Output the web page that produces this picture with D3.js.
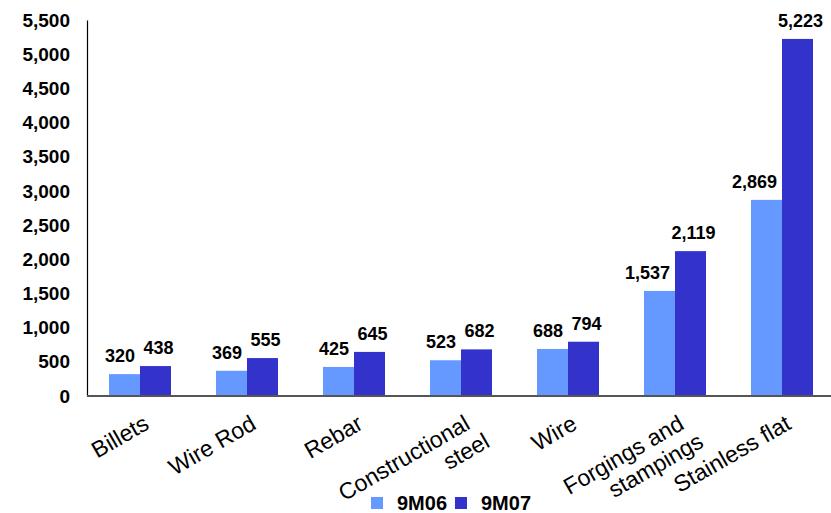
<!doctype html>
<html>
  <head>
    <script src="https://cdnjs.cloudflare.com/ajax/libs/d3/7.8.5/d3.min.js"></script>
    <style>
      body { margin: 0; background: #fff; }
      svg { font-family: "Liberation Sans", Arial, sans-serif; }
      .tick text { font-size: 19px; font-weight: bold; fill: #000; }
      .val { font-size: 18px; font-weight: bold; fill: #000; }
      .cat { font-size: 23px; fill: #000; }
      .legend text { font-size: 20px; font-weight: bold; fill: #000; }
    </style>
  </head>
  <body>
    <svg width="831" height="513"></svg>
    <script>
      var categories = [["Billets"], ["Wire Rod"], ["Rebar"], ["Constructional", "steel"],
                        ["Wire"], ["Forgings and", "stampings"], ["Stainless flat"]];
      var seriesNames = ["9M06", "9M07"];
      var values9M06 = [320, 369, 425, 523, 688, 1537, 2869];
      var values9M07 = [438, 555, 645, 682, 794, 2119, 5223];
      var colors = ["#6699FF", "#3333CC"];
      var yTicks = d3.range(0, 5501, 500);

      var svg = d3.select("svg");
      var series = [values9M06, values9M07];

      var x = d3.scaleBand()
        .domain(d3.range(categories.length))
        .range([87, 836]);
      var xs = d3.scaleBand()
        .domain([0, 1])
        .range([22, x.bandwidth() - 23]);
      var y = d3.scaleLinear()
        .domain([0, 5500])
        .range([396, 20]);

      // y axis
      var yAxis = svg.append("g")
        .attr("transform", "translate(87,0)")
        .call(d3.axisLeft(y).tickValues(yTicks).tickSize(0).tickPadding(17)
          .tickFormat(d3.format(",")));
      yAxis.select(".domain").attr("stroke", "#000").attr("stroke-width", 1.2);
      yAxis.selectAll(".tick text").attr("font-family", null).attr("font-size", null);

      // bars
      series.forEach(function(vals, s) {
        svg.append("g").selectAll("rect")
          .data(vals)
          .enter()
          .append("rect")
            .attr("x", (d, i) => x(i) + xs(s))
            .attr("width", xs.bandwidth())
            .attr("y", d => y(d))
            .attr("height", d => y(0) - y(d))
            .attr("fill", colors[s]);

        svg.append("g").selectAll("text")
          .data(vals)
          .enter()
          .append("text")
            .attr("class", "val")
            .attr("x", (d, i) => s === 0 ? x(i) + xs(s) + xs.bandwidth() - 5
                                         : x(i) + xs(s) + xs.bandwidth() / 2 + 3)
            .attr("y", d => y(d) - 12)
            .attr("text-anchor", s === 0 ? "end" : "middle")
            .text(d => d3.format(",")(d));
      });

      // x axis line
      svg.append("line")
        .attr("x1", 87).attr("x2", 836)
        .attr("y1", y(0)).attr("y2", y(0))
        .attr("stroke", "#555").attr("stroke-width", 2);

      // category labels, rotated
      var cats = svg.append("g").selectAll("text")
        .data(categories)
        .enter()
        .append("text")
          .attr("class", "cat")
          .attr("text-anchor", "end")
          .attr("transform", (d, i) => "translate(" + (x(i) + x.bandwidth() / 2 + 10) + ",428) rotate(-30)");
      cats.selectAll("tspan")
        .data(d => d)
        .enter()
        .append("tspan")
          .attr("x", (d, j) => j * 8)
          .attr("dy", (d, j) => j === 0 ? 0 : "1.1em")
          .text(d => d);

      // legend
      var legend = svg.append("g").attr("class", "legend");
      var legendX = [371, 455];
      seriesNames.forEach(function(name, s) {
        legend.append("rect")
          .attr("x", legendX[s]).attr("y", 497)
          .attr("width", 12).attr("height", 12)
          .attr("fill", colors[s]);
        legend.append("text")
          .attr("x", legendX[s] + 26).attr("y", 510)
          .text(name);
      });
    </script>
  </body>
</html>
